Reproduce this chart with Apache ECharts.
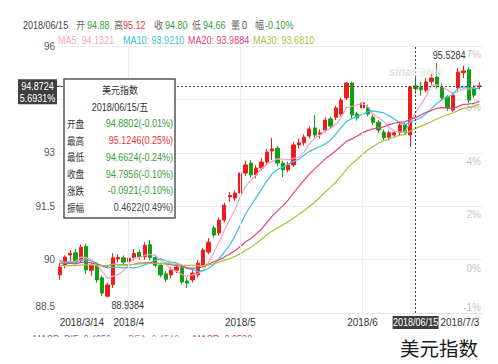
<!DOCTYPE html>
<html><head><meta charset="utf-8">
<script src="https://cdn.jsdelivr.net/npm/echarts@6/dist/echarts.min.js"></script>
<style>html,body{margin:0;padding:0;background:#fff}#chart{width:498px;height:364px}</style>
</head><body><div id="chart"></div>
<script>
// ---------------- data ----------------
const dates = [
 '2018/3/14','2018/3/15','2018/3/16','2018/3/19','2018/3/20','2018/3/21','2018/3/22','2018/3/23','2018/3/26','2018/3/27','2018/3/28','2018/3/29','2018/3/30',
 '2018/4/2','2018/4/3','2018/4/4','2018/4/5','2018/4/6','2018/4/9','2018/4/10','2018/4/11','2018/4/12','2018/4/13','2018/4/16','2018/4/17','2018/4/18','2018/4/19','2018/4/20','2018/4/23','2018/4/24','2018/4/25','2018/4/26','2018/4/27','2018/4/30',
 '2018/5/1','2018/5/2','2018/5/3','2018/5/4','2018/5/7','2018/5/8','2018/5/9','2018/5/10','2018/5/11','2018/5/14','2018/5/15','2018/5/16','2018/5/17','2018/5/18','2018/5/21','2018/5/22','2018/5/23','2018/5/24','2018/5/25','2018/5/28','2018/5/29','2018/5/30','2018/5/31',
 '2018/6/1','2018/6/4','2018/6/5','2018/6/6','2018/6/7','2018/6/8','2018/6/11','2018/6/12','2018/6/13','2018/6/14','2018/6/15','2018/6/18','2018/6/19','2018/6/20','2018/6/21','2018/6/22','2018/6/25','2018/6/26','2018/6/27','2018/6/28','2018/6/29',
 '2018/7/2','2018/7/3'];
const opens = [89.57,89.85,90.13,90.19,89.99,90.37,89.70,89.83,89.49,88.97,
 89.30,90.02,90.05,89.95,90.05,90.20,90.08,90.42,90.06,89.84,
 89.60,89.57,89.70,89.77,89.40,89.43,89.57,89.85,90.21,90.89,
 90.75,91.11,91.76,91.73,91.87,92.43,92.71,92.38,92.57,92.74,
 93.05,93.13,92.71,92.52,92.66,93.22,93.28,93.47,93.70,93.52,
 93.64,93.95,94.00,94.09,94.54,94.96,94.09,94.26,94.26,94.00,
 93.86,93.58,93.44,93.50,93.58,93.78,93.50,94.8802,94.84,94.76,
 95.00,95.13,94.85,94.57,94.20,94.82,95.25,95.33,94.82,94.85];
const closes = [89.79,90.07,90.18,89.94,90.35,89.71,89.84,89.43,89.06,89.29,
 90.05,90.06,89.93,90.04,90.17,90.08,90.40,90.06,89.84,89.57,
 89.45,89.71,89.79,89.37,89.34,89.62,89.90,90.27,90.49,90.69,
 91.11,91.53,91.80,91.87,92.43,92.66,92.38,92.57,92.74,93.02,
 93.11,92.71,92.52,92.66,93.22,93.28,93.44,93.67,93.50,93.56,
 93.92,93.75,94.26,94.48,94.96,94.06,93.98,94.40,94.09,93.86,
 93.64,93.42,93.56,93.56,93.78,93.58,94.85,94.7956,94.77,94.99,
 95.10,94.90,94.54,94.26,94.62,95.27,95.30,94.48,94.62,94.90];
const lows = [89.43,89.75,89.95,89.88,89.92,89.60,89.55,89.35,88.98,88.9384,
 89.20,89.92,89.85,89.88,89.98,90.00,90.00,89.98,89.78,89.50,
 89.38,89.48,89.62,89.30,89.20,89.36,89.50,89.80,90.15,90.62,
 90.68,91.05,91.62,91.65,91.80,92.35,92.30,92.28,92.50,92.68,
 92.80,92.62,92.32,92.45,92.60,93.12,93.20,93.40,93.42,93.40,
 93.58,93.68,93.92,94.02,94.48,93.98,93.90,94.10,94.02,93.78,
 93.55,93.35,93.35,93.42,93.50,93.50,93.17,94.6624,94.60,94.70,
 94.90,94.80,94.45,94.18,94.15,94.75,95.10,94.40,94.55,94.78];
const highs = [89.90,90.12,90.27,90.30,90.42,90.45,89.92,89.90,89.55,89.35,
 90.18,90.15,90.12,90.15,90.30,90.28,90.49,90.55,90.14,89.92,
 89.68,89.80,89.88,89.85,89.50,89.70,89.98,90.33,90.60,90.95,
 91.18,91.60,91.90,91.95,92.50,92.78,92.80,92.65,92.85,93.10,
 93.42,93.20,92.78,92.75,93.30,93.40,93.52,93.75,94.06,93.66,
 94.00,94.02,94.32,94.55,94.99,95.00,94.15,94.50,94.35,94.08,
 93.92,93.65,93.62,93.64,93.85,93.85,94.88,95.1246,95.00,95.10,
 95.22,95.5284,94.95,94.62,94.70,95.38,95.45,95.40,94.90,94.98];
const ma5 = [89.95,89.92,89.94,89.95,90.07,90.05,90.00,89.85,89.68,89.47,
 89.53,89.58,89.68,89.87,90.05,90.06,90.12,90.15,90.11,89.99,
 89.86,89.73,89.67,89.58,89.53,89.57,89.60,89.70,89.92,90.19,
 90.49,90.82,91.12,91.40,91.75,92.06,92.23,92.38,92.56,92.67,
 92.76,92.83,92.82,92.80,92.84,92.88,93.02,93.25,93.42,93.49,
 93.62,93.68,93.80,93.99,94.27,94.30,94.35,94.38,94.30,94.08,
 93.99,93.88,93.71,93.61,93.59,93.58,93.87,94.1321,94.36,94.60,
 94.90,94.91,94.86,94.76,94.68,94.72,94.80,94.79,94.86,94.91];
const ma10 = [89.98,89.92,89.93,89.91,89.99,90.00,89.96,89.90,89.81,89.77,
 89.79,89.79,89.77,89.78,89.76,89.80,89.85,89.91,89.99,90.02,
 89.96,89.93,89.91,89.84,89.76,89.72,89.67,89.69,89.75,89.86,
 90.03,90.21,90.41,90.66,90.97,91.28,91.52,91.75,91.98,92.21,
 92.41,92.53,92.60,92.68,92.76,92.82,92.93,93.04,93.11,93.17,
 93.25,93.35,93.53,93.71,93.88,93.96,94.01,94.09,94.15,94.18,
 94.15,94.12,94.05,93.95,93.84,93.79,93.87,93.921,93.98,94.10,
 94.24,94.39,94.49,94.56,94.64,94.81,94.86,94.82,94.81,94.80];
const ma20 = [89.91,89.89,89.89,89.88,89.92,89.93,89.91,89.87,89.83,89.81,
 89.88,89.86,89.85,89.85,89.87,89.90,89.91,89.91,89.90,89.89,
 89.88,89.86,89.84,89.81,89.76,89.76,89.76,89.80,89.87,89.94,
 89.99,90.07,90.16,90.25,90.37,90.50,90.59,90.72,90.86,91.04,
 91.22,91.37,91.51,91.67,91.87,92.05,92.23,92.40,92.55,92.69,
 92.83,92.94,93.06,93.19,93.32,93.39,93.47,93.56,93.63,93.67,
 93.70,93.73,93.79,93.83,93.86,93.87,93.94,93.9884,94.06,94.14,
 94.19,94.25,94.27,94.26,94.24,94.30,94.36,94.37,94.39,94.45];
const ma30 = [89.84,89.83,89.83,89.83,89.85,89.85,89.85,89.84,89.83,89.83,
 89.87,89.85,89.85,89.85,89.87,89.88,89.89,89.89,89.89,89.88,
 89.91,89.88,89.87,89.84,89.84,89.84,89.83,89.83,89.85,89.88,
 89.93,89.98,90.03,90.09,90.16,90.26,90.35,90.45,90.57,90.70,
 90.80,90.89,90.97,91.06,91.16,91.27,91.37,91.49,91.61,91.75,
 91.90,92.03,92.18,92.35,92.54,92.69,92.82,92.96,93.08,93.18,
 93.27,93.33,93.39,93.45,93.49,93.52,93.61,93.681,93.75,93.81,
 93.88,93.95,94.02,94.07,94.12,94.19,94.25,94.27,94.31,94.36];

const yTickValues = [96, 94.5, 93, 91.5, 90, 88.5];
const yTickLabels = ['96', '', '93', '91.5', '90', '88.5'];   // 94.5 is hidden under the price tag in the reference
const pctTickLabels = ['7%', '5%', '4%', '2%', '0%', '-1%'];
const xTickDates = ['2018/3/14', '2018/4/2', '2018/5/1', '2018/6/1', '2018/7/3'];
const xTickLabels = ['2018/3/14', '2018/4', '2018/5', '2018/6', '2018/7/3'];
const monthStarts = ['2018/4/2', '2018/5/1', '2018/6/1'];

const crossDate = '2018/6/15';
const crossDateLabel = '2018/06/15';
const crossValue = 94.8724;
const crossPct = '5.6931%';
const maxPoint = ['2018/6/21', 95.5284];
const minPoint = ['2018/3/27', 88.9384];

const headerDate = '2018/06/15';
const headerLabels = ['开', '高', '收', '低', '量', '幅'];
const headerValues = ['94.88', '95.12', '94.80', '94.66', '0', '-0.10%'];
const headerTone = ['down', 'up', 'down', 'down', 'flat', 'down'];
const maNames = ['MA5', 'MA10', 'MA20', 'MA30'];
const maValues = ['94.1321', '93.9210', '93.9884', '93.6810'];

const tipTitle = '美元指数';
const tipDate = '2018/06/15/五';
const tipLabels = ['开盘', '最高', '最低', '收盘', '涨跌', '振幅'];
const tipValues = ['94.8802(-0.01%)', '95.1246(0.25%)', '94.6624(-0.24%)', '94.7956(-0.10%)', '-0.0921(-0.10%)', '0.4622(0.49%)'];
const tipTone = ['down', 'up', 'down', 'down', 'down', 'flat'];

const macdTitle = 'MACD:';
const macdLabels = ['DIF: 0.4950', 'DEA: 0.4540', 'MACD: 0.0580'];
const caption = '美元指数';

// ---------------- style ----------------
const FONT = "'Liberation Sans',Arial,'Noto Sans CJK SC',sans-serif";
const CJK = "'Noto Sans CJK SC','Liberation Sans',sans-serif";
const UP = '#f01c1c', DOWN = '#12a012';
const TXT_UP = '#e83434', TXT_DOWN = '#35a035', TXT_FLAT = '#444';
const toneColor = t => t === 'up' ? TXT_UP : (t === 'down' ? TXT_DOWN : TXT_FLAT);
const MA_COLORS = ['#f5a3c4', '#37c1d9', '#e9417f', '#a6c33a'];
const SX = 0.86;   // the reference text is horizontally condensed

const chart = echarts.init(document.getElementById('chart'), null, {renderer: 'svg'});

function findTick(v) {
  for (let i = 0; i < yTickValues.length; i++) if (Math.abs(yTickValues[i] - v) < 1e-6) return i;
  return -1;
}

const candleData = dates.map((d, i) => [opens[i], closes[i], lows[i], highs[i]]);
const maArrays = [ma5, ma10, ma20, ma30];

const option = {
  animation: false,
  textStyle: {fontFamily: FONT},
  grid: {left: 57, right: 16, top: 46, bottom: 51},
  xAxis: {
    type: 'category', data: dates, boundaryGap: true,
    axisLine: {show: true, lineStyle: {color: '#e4e4e4'}},
    axisTick: {show: false}, splitLine: {show: false},
    axisLabel: {
      interval: (idx, v) => xTickDates.indexOf(v) >= 0,
      formatter: v => xTickLabels[xTickDates.indexOf(v)],
      color: '#333', fontSize: 10, margin: 4, fontFamily: FONT,
      showMinLabel: true, showMaxLabel: true,
      alignMinLabel: 'left', alignMaxLabel: 'right'
    }
  },
  yAxis: [{
    type: 'value', min: 88.5, max: 96, interval: 1.5, position: 'left', scale: true,
    axisLine: {show: false}, axisTick: {show: false},
    splitLine: {lineStyle: {color: '#ededed', width: 1}},
    axisLabel: {
      margin: 2, color: '#555', fontSize: 10, fontFamily: FONT,
      formatter: v => { const i = findTick(v); const s = yTickLabels[i]; if (!s) return ''; return i === yTickValues.length - 1 ? '{b|' + s + '}' : '{a|' + s + '}'; },
      rich: {a: {color: '#555', fontSize: 10, fontFamily: FONT}, b: {color: '#555', fontSize: 10, fontFamily: FONT, padding: [0, 0, 13, 0]}}
    }
  }, {
    type: 'value', min: 88.5, max: 96, interval: 1.5, position: 'right', scale: true,
    axisLine: {show: false}, axisTick: {show: false}, splitLine: {show: false},
    axisLabel: {
      inside: true, margin: 1, color: '#c4c4c4', fontSize: 10, fontFamily: FONT,
      formatter: v => { const i = findTick(v); const s = pctTickLabels[i]; return i === yTickValues.length - 1 ? '{b|' + s + '}' : '{a|' + s + '}'; },
      rich: {a: {color: '#c4c4c4', fontSize: 10, fontFamily: FONT, padding: [17, 0, 0, 0]}, b: {color: '#c4c4c4', fontSize: 10, fontFamily: FONT, padding: [0, 0, 12, 0]}}
    }
  }],
  series: [
    {
      name: 'months', type: 'line', data: [], z: 1, silent: true,
      markLine: {silent: true, symbol: ['none', 'none'], label: {show: false},
        lineStyle: {color: '#ececec', type: 'solid', width: 1},
        data: monthStarts.map(d => ({xAxis: d}))}
    },
    {
      name: '美元指数', type: 'candlestick', data: candleData, z: 3, barWidth: '70%',
      itemStyle: {color: UP, color0: DOWN, borderColor: UP, borderColor0: DOWN, borderWidth: 1}
    }
  ].concat(maNames.map((n, k) => ({
    name: n, type: 'line', data: maArrays[k], z: 4, symbol: 'none', showSymbol: false, smooth: false,
    lineStyle: {color: MA_COLORS[k], width: 1.2}, itemStyle: {color: MA_COLORS[k]}, silent: true
  }))).concat([{
    name: 'cross', type: 'line', data: [], z: 6, silent: true,
    markLine: {silent: true, symbol: ['none', 'none'], label: {show: false},
      lineStyle: {color: '#444', type: [2, 2], width: 1},
      data: [{xAxis: crossDate}, {yAxis: crossValue}]}
  }])
};
chart.setOption(option);

// ---------------- overlay texts / boxes ----------------
const crossY = chart.convertToPixel({yAxisIndex: 0}, crossValue);
const crossX = chart.convertToPixel({xAxisIndex: 0}, crossDate);
const maxPx = chart.convertToPixel({seriesIndex: 1}, maxPoint);
const minPx = chart.convertToPixel({seriesIndex: 1}, minPoint);
const g = [];
function txt(x, y, s, color, size, extra, sx) {
  g.push({type: 'text', x: x, y: y, z: 100, scaleX: (sx === undefined ? SX : sx),
    style: Object.assign({text: s, fill: color, fontSize: size, fontFamily: FONT, textVerticalAlign: 'middle', textAlign: 'left'}, extra || {})});
}
// header line 1
const hdrX = [76, 114, 154, 192, 231, 255];
const hdrVX = [87, 123, 165, 203, 242, 265];
txt(23, 25, headerDate, '#444', 10.5);
headerLabels.forEach((l, i) => {
  txt(hdrX[i], 25, l, '#666', 10.5, {fontFamily: CJK});
  txt(hdrVX[i], 25, headerValues[i], toneColor(headerTone[i]), 10.5);
});
// header line 2
const maX = [58, 123, 188, 253];
maNames.forEach((n, k) => txt(maX[k], 40, n + ': ' + maValues[k], MA_COLORS[k], 10.5));
// watermark
txt(389, 72, 'sina', '#e2e2e2', 13, {fontStyle: 'italic', fontWeight: 'bold'});
txt(411, 72, '新浪财经', '#e6e6e6', 9, {fontFamily: CJK});

// extreme labels
txt(maxPx[0] - 4, maxPx[1] - 8, maxPoint[1].toFixed(4), '#333', 10.5);
txt(minPx[0] + 4, minPx[1] + 8, minPoint[1].toFixed(4), '#333', 10.5);

// tooltip box
g.push({type: 'rect', z: 90, shape: {x: 64, y: 79, width: 111, height: 139},
  style: {fill: '#fff', stroke: '#555', lineWidth: 1.5}});
txt(120, 90, tipTitle, '#333', 10.5, {textAlign: 'center', fontFamily: CJK});
txt(120, 107, tipDate, '#333', 10.5, {textAlign: 'center', fontFamily: FONT + ",'Noto Sans CJK SC'"});
tipLabels.forEach((l, i) => {
  const y = 123.5 + i * 16.8;
  txt(67, y, l, '#333', 10, {fontFamily: CJK});
  txt(173, y, tipValues[i], toneColor(tipTone[i]), 10.5, {textAlign: 'right'});
});

// y crosshair tag
g.push({type: 'rect', z: 95, shape: {x: 18, y: crossY - 7, width: 39, height: 25}, style: {fill: '#3f3f3f'}});
txt(37.5, crossY, crossValue.toFixed(4), '#fff', 10.5, {textAlign: 'center'});
txt(37.5, crossY + 12.5, crossPct, '#fff', 10.5, {textAlign: 'center'});
g.push({type: 'line', z: 95, shape: {x1: 57, y1: crossY, x2: 61, y2: crossY}, style: {stroke: '#555', lineWidth: 1}});
// x crosshair tag
g.push({type: 'rect', z: 95, shape: {x: crossX - 23, y: 316, width: 46, height: 13}, style: {fill: '#3f3f3f'}});
txt(crossX, 322.5, crossDateLabel, '#fff', 10.5, {textAlign: 'center'});

// cut-off MACD row
txt(33, 339, macdTitle, '#777', 10.5);
const macdX = [64, 128, 193];
const macdCol = ['#6a6af0', '#d66ad6', '#e04050'];
macdLabels.forEach((s, i) => txt(macdX[i], 339, s, macdCol[i], 10.5));
g.push({type: 'rect', z: 120, shape: {x: 0, y: 337, width: 498, height: 27}, style: {fill: '#fff'}});
g.push({type: 'text', x: 439, y: 347, z: 130,
  style: {text: caption, fill: '#1a1a1a', fontSize: 19.5, fontFamily: CJK, textAlign: 'center', textVerticalAlign: 'middle'}});

chart.setOption({graphic: {elements: g}});
</script>
</body></html>
